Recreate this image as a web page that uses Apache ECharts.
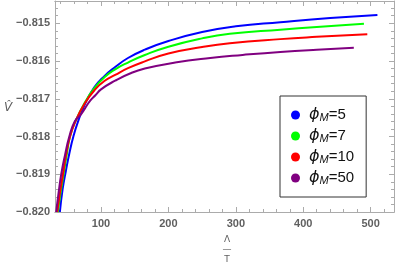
<!DOCTYPE html>
<html><head><meta charset="utf-8">
<script src="https://cdn.jsdelivr.net/npm/echarts@6/dist/echarts.min.js"></script>
<style>html,body{margin:0;padding:0;background:#fff}#c{width:398px;height:265px}</style>
</head><body><div id="c"></div>
<script>
// ---- data ----
const phiValues = [5, 7, 10, 50];

const x5 = [39, 43, 48, 53, 59, 66, 76, 90, 105, 121, 140, 165, 200, 250, 300, 366, 440, 510];
const v5 = [-0.8200, -0.8194, -0.8189, -0.81845, -0.8180, -0.8176, -0.81715, -0.8167, -0.8164, -0.81616, -0.81592, -0.8157, -0.81547, -0.81523, -0.81508, -0.81497, -0.81486, -0.81478];

const x7 = [36, 40, 44.5, 49, 54, 62, 76, 90, 105, 121, 140, 165, 200, 250, 291, 366, 420, 490];
const v7 = [-0.8200, -0.8195, -0.8190, -0.8185, -0.8180, -0.8176, -0.8171, -0.81672, -0.81643, -0.81622, -0.81604, -0.81584, -0.81562, -0.8154, -0.81528, -0.81517, -0.8151, -0.81501];

const x10 = [35, 39, 43.5, 48, 54, 62, 76, 91, 105, 121, 140, 165, 200, 250, 291, 366, 420, 495];
const v10 = [-0.8200, -0.8195, -0.8190, -0.8185, -0.8180, -0.8176, -0.81712, -0.81676, -0.81653, -0.81637, -0.81619, -0.81601, -0.8158, -0.81563, -0.81553, -0.81542, -0.81536, -0.81529];

const x50 = [33.5, 37, 41, 46.5, 53, 61, 70, 76, 84, 92, 100, 121, 143, 165, 210, 262, 310, 366, 420, 475];
const v50 = [-0.8200, -0.8195, -0.8190, -0.8185, -0.8180, -0.8176, -0.81742, -0.81726, -0.81705, -0.8169, -0.81675, -0.81652, -0.81633, -0.8162, -0.81604, -0.81592, -0.81584, -0.81576, -0.8157, -0.81565];

const xMajorTicks = [100, 200, 300, 400, 500];
const xMinorTicks = [40, 60, 80, 120, 140, 160, 180, 220, 240, 260, 280, 320, 340, 360, 380, 420, 440, 460, 480, 520];

// ---- styling ----
const colors = ['#0000ff', '#00ff00', '#ff0000', '#800080'];
const frameColor = '#ababab';
const labelColor = '#5f5f5f';
const xs = [x5, x7, x10, x50];
const vs = [v5, v7, v10, v50];

function zip(a, b) { return a.map((v, i) => [v, b[i]]); }

const chart = echarts.init(document.getElementById('c'), null, {renderer: 'canvas'});

const baseX = {
  type: 'value', min: 31.75, max: 534.6, gridIndex: 0,
  splitLine: {show: false},
  axisLine: {show: true, onZero: false, lineStyle: {color: frameColor, width: 1}},
  axisLabel: {show: false},
};
function xAxisDef(pos, ticks, len, labels) {
  return Object.assign({}, baseX, {
    position: pos,
    axisTick: {show: true, inside: true, length: len, customValues: ticks, lineStyle: {color: frameColor}},
    axisLabel: labels ? {
      show: true, customValues: ticks, margin: 6, color: labelColor,
      fontFamily: 'Liberation Sans', fontWeight: 'bold', fontSize: 11
    } : {show: false}
  });
}
function yAxisDef(pos, labels) {
  return {
    type: 'value', position: pos, min: -0.820, max: -0.81441, interval: 0.001,
    splitLine: {show: false},
    axisLine: {show: true, onZero: false, lineStyle: {color: frameColor, width: 1}},
    axisTick: {show: true, inside: true, length: 5, lineStyle: {color: frameColor}},
    minorTick: {show: true, splitNumber: 5, length: 3, lineStyle: {color: frameColor}},
    axisLabel: labels ? {
      show: true, showMaxLabel: false, margin: 5, color: labelColor,
      fontFamily: 'Liberation Sans', fontWeight: 'bold', fontSize: 11,
      formatter: v => v.toFixed(3).replace('-', '\u2212')
    } : {show: false}
  };
}

const series = phiValues.map((p, i) => ({
  name: 'phi' + p,
  type: 'line',
  xAxisIndex: 0, yAxisIndex: 0,
  data: zip(xs[i], vs[i]),
  showSymbol: false, symbol: 'none',
  smooth: 0.5,
  lineStyle: {color: colors[i], width: 2},
  itemStyle: {color: colors[i]},
  clip: true
}));

chart.setOption({
  animation: false,
  backgroundColor: '#fff',
  grid: {left: 55, right: 4, top: 1, bottom: 53, containLabel: false},
  xAxis: [
    xAxisDef('bottom', xMajorTicks, 5, true),
    xAxisDef('bottom', xMinorTicks, 3, false),
    xAxisDef('top', xMajorTicks, 5, false),
    xAxisDef('top', xMinorTicks, 3, false)
  ],
  yAxis: [yAxisDef('left', true), yAxisDef('right', false)],
  legend: {
    orient: 'vertical', left: 280, top: 96,
    padding: [11, 12, 11, 11],
    itemWidth: 17, itemHeight: 9, itemGap: 5,
    icon: 'circle',
    backgroundColor: '#fff', borderColor: '#333', borderWidth: 1, borderRadius: 0,
    data: phiValues.map(p => 'phi' + p),
    formatter: name => '{p|\u03D5}{m|M}{e|=' + name.slice(3) + '}',
    textStyle: {
      color: '#111', fontSize: 15, fontFamily: 'Liberation Sans',
      rich: {
        p: {fontStyle: 'italic', fontSize: 16, lineHeight: 16, fontFamily: 'DejaVu Sans', color: '#111'},
        m: {fontStyle: 'italic', fontSize: 11, lineHeight: 10, verticalAlign: 'bottom', fontFamily: 'Liberation Sans', color: '#111'},
        e: {fontSize: 15, lineHeight: 16, fontFamily: 'Liberation Sans', color: '#111'}
      }
    }
  },
  graphic: [
    {type: 'text', x: 8, y: 108, style: {text: 'V\u0302', fontFamily: 'DejaVu Sans', fontStyle: 'italic', fontSize: 12, fill: labelColor, align: 'center', verticalAlign: 'middle'}},
    {type: 'text', x: 227, y: 250, style: {text: '\u039B\n\u2014\nT', fontFamily: 'DejaVu Sans', fontSize: 9, lineHeight: 10, fill: labelColor, align: 'center', verticalAlign: 'middle'}}
  ],
  series: series
});
</script>
</body></html>
